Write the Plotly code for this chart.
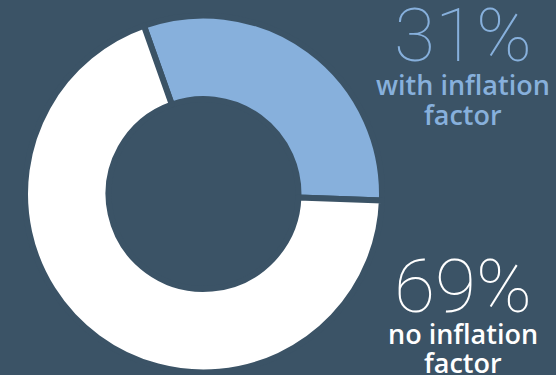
import plotly.graph_objects as go

# Share of cases with and without an inflation factor
categories = ["with inflation factor", "no inflation factor"]
shares = [31, 69]
colors = ["#87b0dc", "#ffffff"]
label_lines = [["with inflation", "factor"], ["no inflation", "factor"]]

BG = "#3b5366"
W, H = 556, 375

fig = go.Figure(
    go.Pie(
        labels=categories,
        values=shares,
        hole=0.532,
        sort=False,
        direction="clockwise",
        rotation=-19.5,
        textinfo="none",
        hoverinfo="label+percent",
        marker=dict(colors=colors, line=dict(color=BG, width=6)),
        domain=dict(x=[25 / W, 382 / W], y=[1 - 372.5 / H, 1 - 15.5 / H]),
        showlegend=False,
    )
)

# Right-hand callouts: big percentage with a two-line caption underneath
big_mid = [35, 286]
cap_base = [[94, 123], [342, 371]]
DESCENT = 10.5  # gap between a caption's baseline and the bottom of its text box
for i in range(2):
    fig.add_annotation(
        x=463 / W, y=1 - big_mid[i] / H, xref="paper", yref="paper",
        text=f"{shares[i]}%", showarrow=False, xanchor="center", yanchor="middle",
        font=dict(family="Roboto", size=75, color=colors[i], weight=100),
    )
    for line, base in zip(label_lines[i], cap_base[i]):
        fig.add_annotation(
            x=463 / W, y=1 - (base + DESCENT) / H, xref="paper", yref="paper",
            text=line, showarrow=False, xanchor="center", yanchor="bottom",
            font=dict(family="Open Sans", size=27, color=colors[i], weight=600),
            borderpad=0,
        )

fig.update_layout(
    width=W, height=H,
    margin=dict(l=0, r=0, t=0, b=0),
    paper_bgcolor=BG, plot_bgcolor=BG,
)

fig.write_html("out.html")
